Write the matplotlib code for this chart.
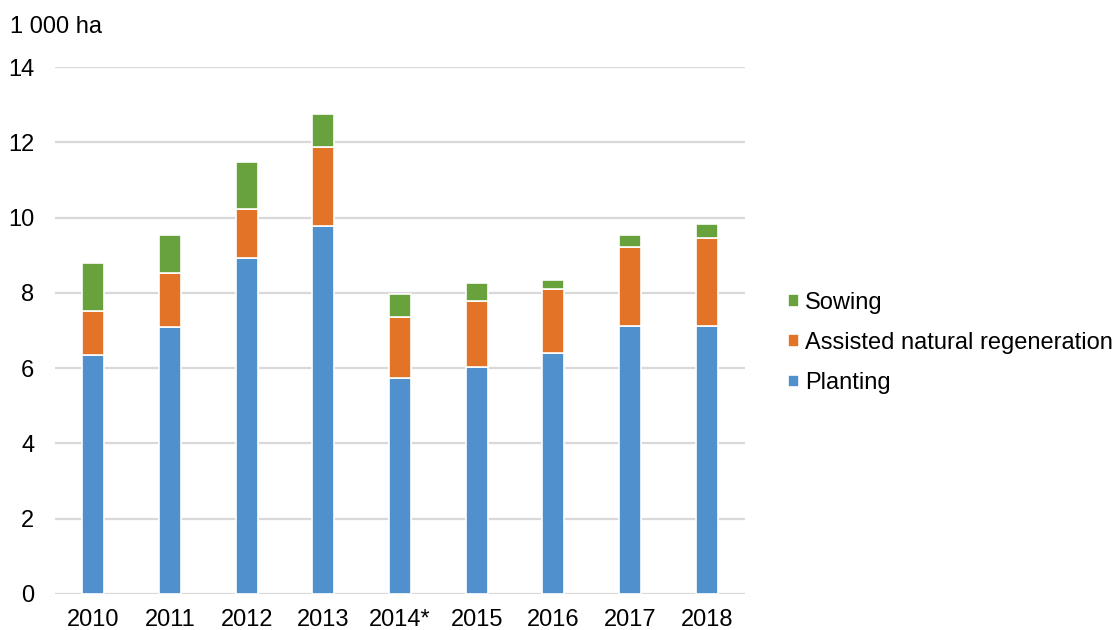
import matplotlib
matplotlib.use("Agg")
import matplotlib.pyplot as plt
import numpy as np

years = ["2010", "2011", "2012", "2013", "2014*", "2015", "2016", "2017", "2018"]
planting = [6.34, 7.10, 8.93, 9.77, 5.75, 6.04, 6.41, 7.11, 7.13]
assisted = [1.19, 1.42, 1.30, 2.11, 1.62, 1.74, 1.69, 2.12, 2.32]
sowing = [1.26, 1.03, 1.25, 0.87, 0.61, 0.47, 0.24, 0.32, 0.37]
yticks = [0, 2, 4, 6, 8, 10, 12, 14]

plt.rcParams['font.family'] = ['Liberation Sans', 'DejaVu Sans']
FS = 17

fig = plt.figure(figsize=(11.18, 6.3), dpi=100)
W, H = 1118, 630
ax = fig.add_axes([55 / W, 1 - 594 / H, 690 / W, (594 - 67) / H])

x = np.arange(len(years))
bw = 0.29
c_pl, c_an, c_so = "#4f90cd", "#e27327", "#67a23d"
p = np.array(planting)
a = np.array(assisted)
s = np.array(sowing)
ax.bar(x, p, bw, color=c_pl, edgecolor="white", linewidth=1.2, label="Planting", zorder=3)
ax.bar(x, a, bw, bottom=p, color=c_an, edgecolor="white", linewidth=1.2,
       label="Assisted natural regeneration", zorder=3)
ax.bar(x, s, bw, bottom=p + a, color=c_so, edgecolor="white", linewidth=1.2, label="Sowing", zorder=3)

ax.set_xlim(-0.5, len(years) - 0.5)
ax.set_ylim(0, 14)
ax.set_yticks(yticks)
ax.set_xticks(x)
ax.set_xticklabels(years)
ax.yaxis.grid(True, color="#d9d9d9", linewidth=1.6, zorder=0)
ax.set_axisbelow(True)
for sp in ax.spines.values():
    sp.set_visible(False)
ax.tick_params(axis="both", length=0, labelsize=FS, colors="black")
ax.tick_params(axis="y", pad=15)
ax.tick_params(axis="x", pad=11)

fig.text(10 / W, 1 - 27 / H, "1 000 ha", fontsize=FS, va="center", ha="left")

handles, labels = ax.get_legend_handles_labels()
leg = fig.legend(handles[::-1], labels[::-1], loc="center left",
                 bbox_to_anchor=(767 / W, 1 - 343 / H), frameon=False,
                 fontsize=FS, handlelength=0.45, handleheight=0.45,
                 handletextpad=0.25, labelspacing=0.78)

fig.savefig("out.png", dpi=100)
